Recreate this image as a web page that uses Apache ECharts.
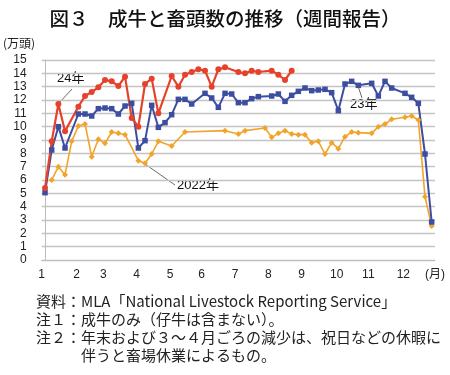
<!DOCTYPE html>
<html>
<head>
<meta charset="utf-8">
<script src="https://cdn.jsdelivr.net/npm/echarts@6/dist/echarts.min.js"></script>
<style>
  html, body { margin: 0; padding: 0; background: #fff; }
  #main { width: 450px; height: 375px; }
</style>
</head>
<body>
<div id="main"></div>
<script>
var myChart = echarts.init(document.getElementById('main'));

// 週番号 0..58（欠測は null）
var cattle24 = [5.4, 8.9, 11.7, 9.65, null, 11.5, 12.3, 12.6, 12.95, 13.5,
  13.4, 13.05, 13.75, 10.65, 10.0, 13.2, 13.6, 11.0, null, 13.8,
  13.0, 13.9, 14.1, 14.3, 14.2, 13.0, 14.3, 14.45, null, 14.1,
  14.0, 14.2, 14.1, null, 14.2, 13.9, 13.5, 14.2];
var cattle23 = [5.05, 8.25, 10.0, 8.4, null, 10.95, 10.95, 10.8, 11.35, 11.4,
  11.35, 10.95, 11.55, 11.75, 8.4, 8.95, 11.6, 9.95, 10.3, 10.9,
  12.05, 12.05, 11.7, null, 12.5, 12.15, 11.45, 12.5, 12.45, 11.8,
  11.8, 12.1, 12.25, null, 12.3, 12.45, 11.9, 12.35, 12.65, 12.9,
  12.7, 12.75, 12.8, 12.55, 11.2, 13.2, 13.4, 13.1, null, 13.25,
  12.3, 13.4, 12.9, null, 12.5, 12.2, 11.75, 7.95, 2.85];
var cattle22 = [null, 6.0, 7.0, 6.4, 8.9, 10.05, 10.2, 7.75, 9.05, 8.75,
  9.6, 9.5, 9.4, null, 7.45, 7.25, 7.95, 8.9, null, 8.55,
  null, 9.6, null, null, null, null, null, 9.7, null, 9.45,
  9.7, null, null, 9.9, 9.2, 9.5, 9.7, 9.45, 9.4, 9.4,
  8.8, 8.9, 7.95, 8.8, 8.35, 9.25, 9.6, 9.55, null, 9.5,
  10.0, 10.2, 10.55, null, 10.7, 10.8, 10.5, 4.75, 2.55];

// 月ラベルとその位置（週番号）
var monthLabels = ['1', '2', '3', '4', '5', '6', '7', '8', '9', '10', '11', '12', '(月)'];
var monthPos = [-0.5, 4.75, 8.75, 13.75, 18.75, 23.5, 28.5, 33.5, 38.5, 43.75, 48.5, 53.75, 58.5];

var notes = [
  '資料：MLA「National Livestock Reporting Service」',
  '注１：成牛のみ（仔牛は含まない）。',
  '注２：年末および３～４月ごろの減少は、祝日などの休暇に',
  '伴うと畜場休業によるもの。'
];

function toPairs(arr) {
  var out = [];
  arr.forEach(function (v, i) {
    if (v !== null) out.push([i, v]);
  });
  return out;
}

var font = "'Liberation Sans', 'Noto Sans CJK JP', sans-serif";
var jpFont = "'Noto Sans CJK JP', sans-serif";

myChart.setOption({
  animation: false,
  backgroundColor: '#fff',
  title: {
    text: '図３　成牛と畜頭数の推移（週間報告）',
    left: 'center',
    top: 4,
    textStyle: { fontFamily: jpFont, fontSize: 19.5, fontWeight: 500, color: '#111' }
  },
  grid: { left: 41.7, right: 15, top: 60, bottom: 115 },
  xAxis: {
    type: 'value',
    min: -0.5,
    max: 58.5,
    interval: 0.25,
    axisLine: { show: true, lineStyle: { color: '#bdbdbd', width: 1 } },
    axisTick: { show: false },
    splitLine: { show: false },
    axisLabel: {
      margin: 9,
      fontFamily: font,
      fontSize: 12,
      color: '#222',
      formatter: function (v) {
        var k = monthPos.indexOf(v);
        return k >= 0 ? monthLabels[k] : '';
      }
    }
  },
  yAxis: {
    type: 'value',
    min: 0,
    max: 15,
    interval: 1,
    axisLine: { show: true, lineStyle: { color: '#bdbdbd', width: 1 } },
    axisTick: { show: false },
    splitLine: { lineStyle: { color: '#c4c4c4', width: 1.3 } },
    axisLabel: { margin: 15, fontFamily: font, fontSize: 12, color: '#222' }
  },
  series: [
    {
      name: '2022年',
      type: 'line',
      data: toPairs(cattle22),
      symbol: 'diamond',
      symbolSize: 6,
      lineStyle: { color: '#f2a42a', width: 1.6 },
      itemStyle: { color: '#f2a42a' }
    },
    {
      name: '23年',
      type: 'line',
      data: toPairs(cattle23),
      symbol: 'rect',
      symbolSize: 5.5,
      lineStyle: { color: '#3d4ea1', width: 2 },
      itemStyle: { color: '#3d4ea1' }
    },
    {
      name: '24年',
      type: 'line',
      data: toPairs(cattle24),
      symbol: 'circle',
      symbolSize: 6,
      lineStyle: { color: '#e6422b', width: 2.2 },
      itemStyle: { color: '#e6422b' }
    }
  ],
  graphic: [
    { type: 'text', left: 3, top: 37, style: { text: '(万頭)', font: '12px ' + jpFont, fill: '#222' } },
    // 系列注記
    { type: 'line', shape: { x1: 72, y1: 89, x2: 59, y2: 103 }, style: { stroke: '#444', lineWidth: 0.8 } },
    { type: 'text', left: 57, top: 72, style: { text: '24年', font: '13px ' + font, fill: '#111' } },
    { type: 'line', shape: { x1: 358, y1: 86, x2: 362, y2: 98 }, style: { stroke: '#444', lineWidth: 0.8 } },
    { type: 'text', left: 350, top: 98, style: { text: '23年', font: '13px ' + font, fill: '#111' } },
    { type: 'line', shape: { x1: 145, y1: 164, x2: 175, y2: 185 }, style: { stroke: '#444', lineWidth: 0.8 } },
    { type: 'text', left: 177, top: 179, style: { text: '2022年', font: '13px ' + font, fill: '#111' } },
    // 注記
    { type: 'text', left: 36, top: 294, style: { text: notes[0], font: '15px ' + jpFont, fill: '#222' } },
    { type: 'text', left: 36, top: 312, style: { text: notes[1], font: '15px ' + jpFont, fill: '#222' } },
    { type: 'text', left: 36, top: 330, style: { text: notes[2], font: '15px ' + jpFont, fill: '#222' } },
    { type: 'text', left: 81, top: 348, style: { text: notes[3], font: '15px ' + jpFont, fill: '#222' } }
  ]
});
</script>
</body>
</html>
